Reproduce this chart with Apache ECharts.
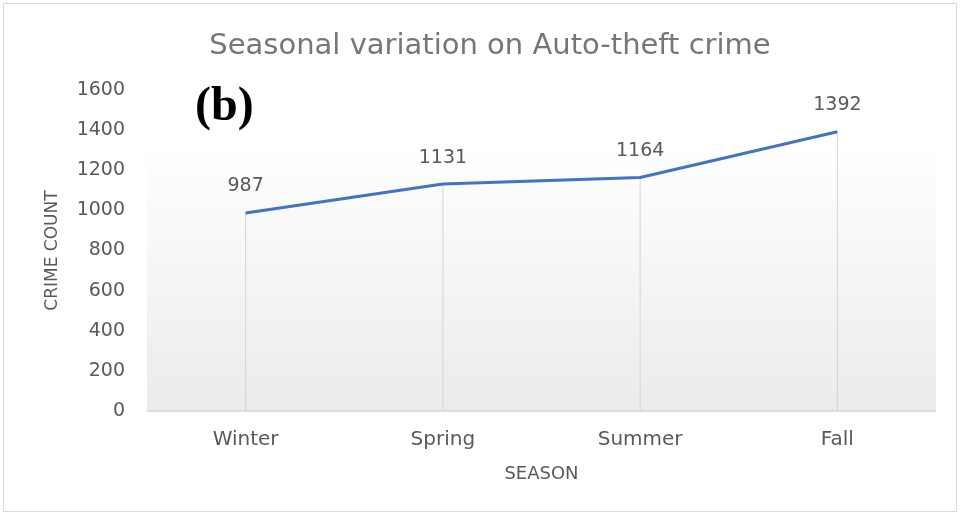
<!DOCTYPE html>
<html>
<head>
<meta charset="utf-8">
<script src="https://cdn.jsdelivr.net/npm/echarts@6/dist/echarts.min.js"></script>
<style>
  html, body { margin: 0; padding: 0; background: #fff; }
  #main { width: 964px; height: 517px; }
</style>
</head>
<body>
<div id="main"></div>
<script>
  var seasons = ['Winter', 'Spring', 'Summer', 'Fall'];
  var crimeCount = [987, 1131, 1164, 1392];
  var yTicks = [0, 200, 400, 600, 800, 1000, 1200, 1400, 1600];

  var textColor = '#595959';
  var fontName = '"DejaVu Sans", sans-serif';

  var myChart = echarts.init(document.getElementById('main'));
  var option = {
    backgroundColor: '#ffffff',
    animation: false,
    title: {
      text: 'Seasonal variation on Auto-theft crime',
      left: 485,
      textAlign: 'center',
      top: 27,
      textStyle: { color: '#767676', fontSize: 29, fontWeight: 'normal', fontFamily: fontName }
    },
    graphic: [
      {
        type: 'rect', z: -10, silent: true,
        shape: { x: 3.5, y: 3.5, width: 953, height: 508 },
        style: { fill: 'none', stroke: '#d9d9d9', lineWidth: 1 }
      },
      {
        type: 'rect', z: -5, silent: true,
        shape: { x: 147, y: 142, width: 789, height: 270 },
        style: {
          fill: new echarts.graphic.LinearGradient(0, 0, 0, 1, [
            { offset: 0, color: '#ffffff' },
            { offset: 1, color: '#ebebeb' }
          ])
        }
      },
      {
        type: 'text', left: 195, top: 84, z: 10, silent: true,
        style: { text: '(b)', font: 'bold 48px "Liberation Serif", "DejaVu Serif", serif', fill: '#000' }
      }
    ],
    grid: { left: 147, right: 28, top: 90, bottom: 106, containLabel: false },
    xAxis: {
      type: 'category',
      data: seasons,
      boundaryGap: true,
      name: 'SEASON',
      nameLocation: 'middle',
      nameGap: 54,
      nameTextStyle: { color: textColor, fontSize: 18, fontFamily: fontName },
      axisLine: { show: true, lineStyle: { color: '#d9d9d9', width: 1.5 } },
      axisTick: { show: false },
      axisLabel: { color: textColor, fontSize: 20, margin: 19, fontFamily: fontName },
      splitLine: { show: false }
    },
    yAxis: {
      type: 'value',
      min: yTicks[0],
      max: yTicks[yTicks.length - 1],
      interval: yTicks[1] - yTicks[0],
      name: 'CRIME COUNT',
      nameLocation: 'middle',
      nameGap: 86,
      nameTextStyle: { color: textColor, fontSize: 17, fontFamily: fontName },
      axisLine: { show: false },
      axisTick: { show: false },
      axisLabel: {
        color: textColor, fontSize: 19, margin: 22, fontFamily: fontName,
        formatter: function (v) { return String(v); }
      },
      splitLine: { show: false }
    },
    series: [
      {
        // thin drop lines from each point, also carry the value labels
        name: 'drop',
        type: 'bar',
        data: crimeCount,
        barWidth: 1,
        silent: true,
        itemStyle: { color: '#d4d4d4' },
        label: {
          show: true,
          position: 'top',
          distance: 17,
          color: textColor,
          fontSize: 19,
          fontFamily: fontName
        },
        z: 1
      },
      {
        name: 'Crime count',
        type: 'line',
        data: crimeCount,
        symbol: 'none',
        lineStyle: { color: '#4472C4', width: 3 },
        z: 3
      }
    ]
  };
  myChart.setOption(option);
</script>
</body>
</html>
